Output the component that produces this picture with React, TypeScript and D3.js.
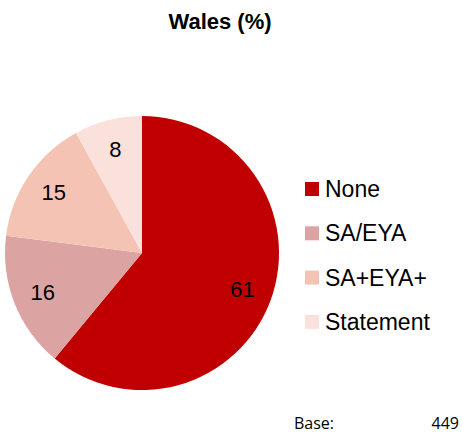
import React from "react";
import * as d3 from "d3";

const categories = ["None", "SA/EYA", "SA+EYA+", "Statement"];
const values = [61, 16, 15, 8];
const colors = ["#C00000", "#DCA3A3", "#F4C3B3", "#FBE1DB"];
const title = "Wales (%)";
const baseLabel = "Base:";
const baseValue = "449";

export default function App() {
  const W = 462, H = 435;
  const cx = 142, cy = 253, R = 137;
  const pie = d3.pie<number>().sort(null).value((d) => d)(values);
  const arc = d3.arc<d3.PieArcDatum<number>>().innerRadius(0).outerRadius(R);
  const labelArc = d3.arc<d3.PieArcDatum<number>>().innerRadius(R * 0.78).outerRadius(R * 0.78);
  const font = "'Liberation Sans', Arial, sans-serif";
  return (
    <svg width={W} height={H} style={{ position: "absolute", left: 0, top: 0 }}>
      <rect width={W} height={H} fill="#fff" />
      <text x={220} y={29} textAnchor="middle" fontFamily={font} fontWeight="bold" fontSize={22} fill="#000">{title}</text>
      <g transform={`translate(${cx},${cy})`}>
        {pie.map((p, i) => (
          <path key={i} d={arc(p) || ""} fill={colors[i]} />
        ))}
        {pie.map((p, i) => {
          const [x, y] = labelArc.centroid(p);
          return (
            <text key={i} x={x} y={y} textAnchor="middle" dominantBaseline="central" fontFamily={font} fontSize={22} fill="#000">{values[i]}</text>
          );
        })}
      </g>
      {categories.map((c, i) => {
        const y = 189 + i * 44.3;
        return (
          <g key={c}>
            <rect x={305} y={y - 7} width={14} height={14} fill={colors[i]} />
            <text x={325} y={y} dominantBaseline="central" fontFamily={font} fontSize={23} fill="#000">{c}</text>
          </g>
        );
      })}
      <text x={294} y={429} fontFamily="'Open Sans', sans-serif" fontSize={16} fill="#000">{baseLabel}</text>
      <text x={459} y={429} textAnchor="end" fontFamily="'Open Sans', sans-serif" fontSize={16} fill="#000">{baseValue}</text>
    </svg>
  );
}
